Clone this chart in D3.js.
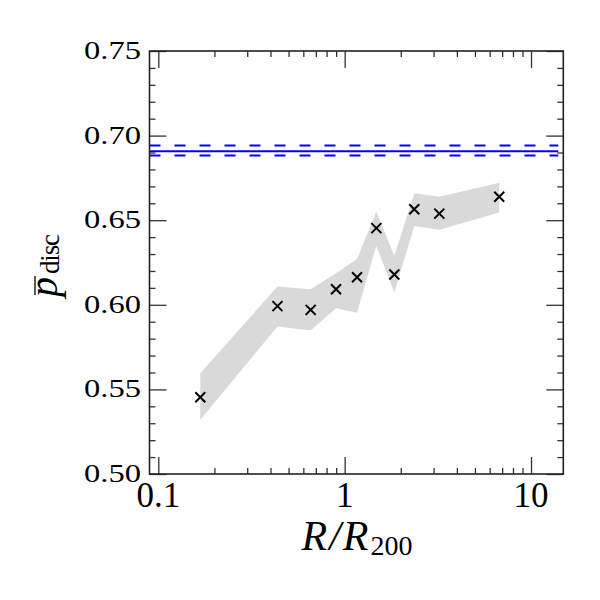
<!DOCTYPE html>
<meta charset="utf-8">
<title>p_disc vs R/R200</title>
<style>
  body { margin: 0; background: #fff; }
  svg text { font-family: "Liberation Serif", "DejaVu Serif", serif; fill: #000; }
</style>
<div id="viz"></div>
<script src="https://cdnjs.cloudflare.com/ajax/libs/d3/7.8.5/d3.min.js"></script>
<script>

// radial bins (R/R200) and mean disc probability
var rBins  = [0.168, 0.436, 0.657, 0.899, 1.165, 1.479, 1.847, 2.363, 3.22, 6.75];
var pDisc  = [0.5454, 0.5992, 0.597, 0.6092, 0.6163, 0.6453, 0.6179, 0.6565, 0.6539, 0.6639];
var pUpper = [0.5596, 0.6108, 0.6092, 0.6187, 0.627, 0.6551, 0.6289, 0.666, 0.6639, 0.6722];
var pLower = [0.532, 0.5872, 0.5848, 0.598, 0.5953, 0.6348, 0.6072, 0.6466, 0.6443, 0.6545];

// field value with its error range (horizontal lines)
var fieldMean  = 0.6908;
var fieldRange = [0.6882, 0.6941];
var fieldXs    = [0.0897, 14];

var xTicks  = [0.1, 1, 10];
var xLabels = ["0.1", "1", "10"];
var yTicks  = [0.50, 0.55, 0.60, 0.65, 0.70, 0.75];
var yLabels = ["0.50", "0.55", "0.60", "0.65", "0.70", "0.75"];

var width = 600, height = 600;
var pLeft = 149.5, pRight = 563.3, pTop = 51, pBottom = 474;

var svg = d3.select("#viz").append("svg")
    .attr("width", width)
    .attr("height", height);

var x = d3.scaleLog().domain([0.0897, 14.9]).range([pLeft, pRight]);
var y = d3.scaleLinear().domain([0.5, 0.75]).range([pBottom, pTop]);

// shaded band
var band = rBins.map(function(r, i) { return {r: r, lo: pLower[i], hi: pUpper[i]}; });
svg.append("path")
  .datum(band)
  .attr("fill", "#d9d9d9")
  .attr("d", d3.area()
    .x(function(d) { return x(d.r); })
    .y0(function(d) { return y(d.lo); })
    .y1(function(d) { return y(d.hi); }));

// field lines
svg.append("line")
  .attr("x1", x(fieldXs[0])).attr("x2", x(fieldXs[1]))
  .attr("y1", y(fieldMean)).attr("y2", y(fieldMean))
  .attr("stroke", "#0000ff").attr("stroke-width", 2);
fieldRange.forEach(function(v) {
  svg.append("line")
    .attr("x1", x(fieldXs[0])).attr("x2", x(fieldXs[1]))
    .attr("y1", y(v)).attr("y2", y(v))
    .attr("stroke", "#0000ff").attr("stroke-width", 2)
    .attr("stroke-dasharray", "11, 14");
});

// markers
svg.selectAll(".pt")
  .data(rBins)
  .enter().append("path")
  .attr("class", "pt")
  .attr("transform", function(d, i) { return "translate(" + x(d) + "," + y(pDisc[i]) + ")"; })
  .attr("d", "M-5,-5L5,5M-5,5L5,-5")
  .attr("stroke", "#000").attr("stroke-width", 2).attr("fill", "none");

// ticks (inward, all four sides)
var xMinor = [];
[0.1, 1].forEach(function(dec) {
  for (var k = 2; k <= 9; k++) xMinor.push(k * dec);
});
var yMinor = d3.range(50, 76).map(function(v) { return v / 100; })
  .filter(function(v) { return Math.round(v * 100) % 5 != 0; });

function tickAxis(gen, scale, vals, size, transform) {
  var g = svg.append("g")
    .attr("transform", transform)
    .call(gen(scale).tickValues(vals).tickSize(-size).tickFormat(""));
  g.select(".domain").remove();
  g.selectAll("line").attr("stroke", "#333").attr("stroke-width", 1.3);
}
tickAxis(d3.axisBottom, x, xTicks, 17, "translate(0," + pBottom + ")");
tickAxis(d3.axisBottom, x, xMinor, 6, "translate(0," + pBottom + ")");
tickAxis(d3.axisTop, x, xTicks, 17, "translate(0," + pTop + ")");
tickAxis(d3.axisTop, x, xMinor, 6, "translate(0," + pTop + ")");
tickAxis(d3.axisLeft, y, yTicks, 17, "translate(" + pLeft + ",0)");
tickAxis(d3.axisLeft, y, yMinor, 6, "translate(" + pLeft + ",0)");
tickAxis(d3.axisRight, y, yTicks, 17, "translate(" + pRight + ",0)");
tickAxis(d3.axisRight, y, yMinor, 6, "translate(" + pRight + ",0)");

// frame
svg.append("rect")
  .attr("x", pLeft).attr("y", pTop)
  .attr("width", pRight - pLeft).attr("height", pBottom - pTop)
  .attr("fill", "none").attr("stroke", "#222").attr("stroke-width", 1.6);

// tick labels
svg.selectAll(".ylab")
  .data(yTicks)
  .enter().append("text")
  .attr("class", "ylab")
  .attr("x", 141)
  .attr("y", function(d) { return y(d) + 8; })
  .attr("text-anchor", "end")
  .attr("font-size", 25)
  .attr("textLength", 57)
  .attr("lengthAdjust", "spacingAndGlyphs")
  .text(function(d, i) { return yLabels[i]; });

svg.selectAll(".xlab")
  .data(xTicks)
  .enter().append("text")
  .attr("class", "xlab")
  .attr("x", function(d) { return x(d); })
  .attr("y", 507)
  .attr("text-anchor", "middle")
  .attr("font-size", 35)
  .text(function(d, i) { return xLabels[i]; });

// x axis title
var xt = svg.append("text")
  .attr("x", 357).attr("y", 550)
  .attr("text-anchor", "middle")
  .attr("font-size", 42);
xt.append("tspan").attr("font-style", "italic").attr("letter-spacing", 2).text("R/R");
xt.append("tspan").attr("font-size", 28).attr("dy", 5).text("200");

// y axis title (rotated)
var yg = svg.append("g").attr("transform", "translate(57,262) rotate(-90)");
var pText = yg.append("text")
  .attr("x", -35).attr("y", 0)
  .attr("font-size", 40)
  .attr("font-style", "italic")
  .text("p");
var pw = pText.node().getComputedTextLength();
yg.append("text")
  .attr("x", -35 + pw + 3).attr("y", 2)
  .attr("font-size", 27)
  .attr("textLength", 40)
  .attr("lengthAdjust", "spacing")
  .text("disc");
yg.append("line")
  .attr("x1", -33).attr("x2", -35 + pw + 1)
  .attr("y1", -22).attr("y2", -22)
  .attr("stroke", "#000").attr("stroke-width", 1.3);

</script>
